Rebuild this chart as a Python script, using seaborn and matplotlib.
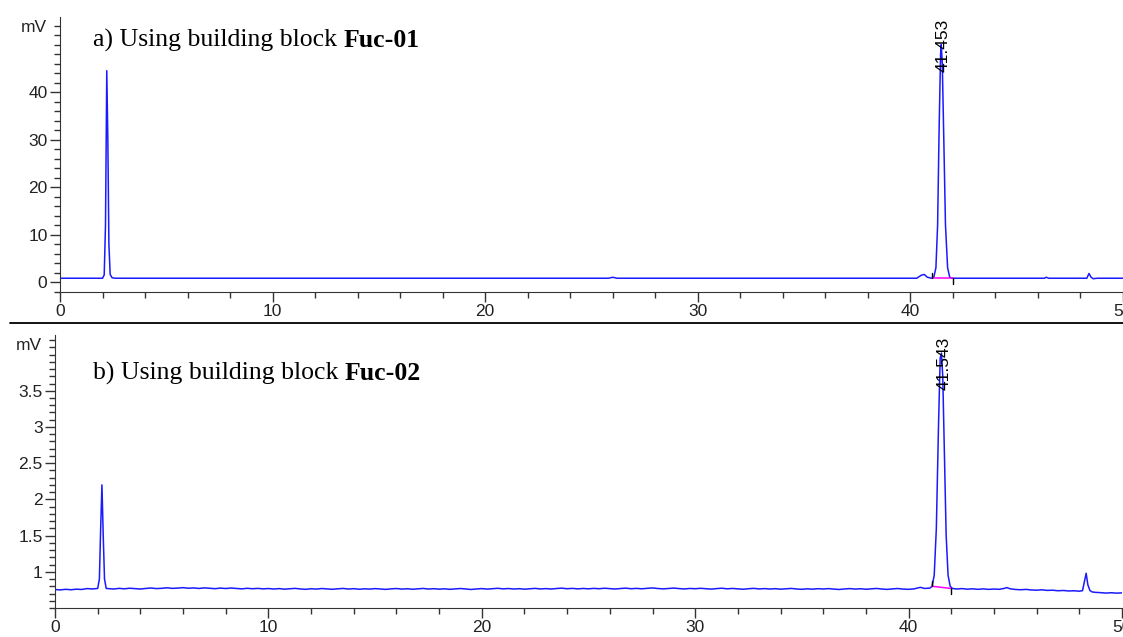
import matplotlib
matplotlib.use("Agg")
import matplotlib.pyplot as plt
from matplotlib.lines import Line2D
from matplotlib.text import Annotation
from matplotlib.ticker import MultipleLocator, FixedLocator
import seaborn as sns

# chromatogram a) Fuc-01 : time (min), signal (mV)
time_a = [0.0, 1.0, 2.0, 2.08, 2.14, 2.2, 2.25, 2.3, 2.36, 2.45, 2.6, 10.0, 20.0, 25.8, 26.0, 26.2,
          35.0, 40.3, 40.5, 40.65, 40.8, 41.0, 41.1, 41.2, 41.28, 41.35, 41.42, 41.45, 41.5, 41.58,
          41.65, 41.75, 41.85, 41.95, 44.0, 46.3, 46.4, 46.5, 48.3, 48.4, 48.5, 48.6, 48.8, 50.0]
signal_a = [0.8, 0.8, 0.8, 1.5, 12.0, 44.5, 30.0, 8.0, 1.6, 0.9, 0.8, 0.8, 0.8, 0.8, 1.0, 0.8,
            0.8, 0.8, 1.4, 1.6, 1.0, 0.8, 1.0, 3.0, 12.0, 32.0, 48.0, 50.0, 46.0, 28.0,
            12.0, 3.0, 1.0, 0.8, 0.8, 0.8, 1.0, 0.8, 0.8, 1.8, 1.0, 0.7, 0.8, 0.8]

# chromatogram b) Fuc-02
time_b = [0.0, 0.25, 0.5, 0.75, 1.0, 1.25, 1.5, 1.75, 2.0, 2.08, 2.14, 2.2, 2.26, 2.32, 2.4,
          2.5, 2.75, 3.0, 3.25, 3.5, 3.75, 4.0, 4.25, 4.5, 4.75, 5.0, 5.25, 5.5, 5.75, 6.0, 6.25,
          6.5, 6.75, 7.0, 7.25, 7.5, 7.75, 8.0, 8.25, 8.5, 8.75, 9.0, 9.25, 9.5, 9.75, 10.0,
          10.25, 10.5, 10.75, 11.0, 11.25, 11.5, 11.75, 12.0, 12.25, 12.5, 12.75, 13.0, 13.25, 13.5,
          13.75, 14.0, 14.25, 14.5, 14.75, 15.0, 15.25, 15.5, 15.75, 16.0, 16.25, 16.5, 16.75, 17.0,
          17.25, 17.5, 17.75, 18.0, 18.25, 18.5, 18.75, 19.0, 19.25, 19.5, 19.75, 20.0, 20.25, 20.5,
          20.75, 21.0, 21.25, 21.5, 21.75, 22.0, 22.25, 22.5, 22.75, 23.0, 23.25, 23.5, 23.75, 24.0,
          24.25, 24.5, 24.75, 25.0, 25.25, 25.5, 25.75, 26.0, 26.25, 26.5, 26.75, 27.0, 27.25, 27.5,
          27.75, 28.0, 28.25, 28.5, 28.75, 29.0, 29.25, 29.5, 29.75, 30.0, 30.25, 30.5, 30.75, 31.0,
          31.25, 31.5, 31.75, 32.0, 32.25, 32.5, 32.75, 33.0, 33.25, 33.5, 33.75, 34.0, 34.25, 34.5,
          34.75, 35.0, 35.25, 35.5, 35.75, 36.0, 36.25, 36.5, 36.75, 37.0, 37.25, 37.5, 37.75, 38.0,
          38.25, 38.5, 38.75, 39.0, 39.25, 39.5, 39.75, 40.0,
          40.25, 40.55, 40.75, 41.0, 41.1, 41.2, 41.3, 41.4, 41.48, 41.54, 41.6, 41.68, 41.76, 41.85,
          41.95, 42.05, 42.25, 42.5, 42.75, 43.0, 43.25, 43.5, 43.75, 44.0, 44.25, 44.5, 44.6, 44.75,
          45.0, 45.25, 45.5, 45.75, 46.0, 46.25, 46.5, 46.75, 47.0, 47.25, 47.5, 47.75, 48.0, 48.15,
          48.25, 48.32, 48.4, 48.5, 48.6, 48.75, 49.0, 49.25, 49.5, 49.75, 50.0]
signal_b = [0.755, 0.750, 0.758, 0.752, 0.760, 0.756, 0.768, 0.763, 0.770, 0.9, 1.6, 2.2, 1.5, 0.9, 0.77,
            0.768, 0.762, 0.771, 0.765, 0.773, 0.767, 0.762, 0.770, 0.776, 0.768, 0.772, 0.779, 0.771, 0.775, 0.781, 0.773,
            0.777, 0.770, 0.778, 0.772, 0.767, 0.775, 0.769, 0.776, 0.770, 0.764, 0.772, 0.766, 0.771, 0.764, 0.769,
            0.762, 0.768, 0.760, 0.766, 0.771, 0.763, 0.758, 0.766, 0.761, 0.769, 0.764, 0.758, 0.765, 0.770,
            0.762, 0.767, 0.759, 0.765, 0.761, 0.768, 0.763, 0.757, 0.764, 0.769, 0.761, 0.766, 0.759, 0.764,
            0.770, 0.762, 0.767, 0.760, 0.765, 0.758, 0.763, 0.769, 0.762, 0.756, 0.763, 0.768, 0.761, 0.766,
            0.772, 0.764, 0.769, 0.762, 0.767, 0.760, 0.766, 0.771, 0.763, 0.768, 0.762, 0.769, 0.774, 0.766,
            0.771, 0.764, 0.770, 0.765, 0.771, 0.766, 0.773, 0.767, 0.762, 0.769, 0.774, 0.766, 0.771, 0.765,
            0.772, 0.777, 0.769, 0.764, 0.770, 0.775, 0.768, 0.763, 0.770, 0.766, 0.772, 0.767, 0.761, 0.768,
            0.773, 0.765, 0.770, 0.764, 0.759, 0.766, 0.771, 0.763, 0.768, 0.762, 0.767, 0.760, 0.765, 0.770,
            0.763, 0.758, 0.765, 0.760, 0.767, 0.762, 0.768, 0.761, 0.756, 0.763, 0.768, 0.761, 0.766, 0.759,
            0.764, 0.770, 0.762, 0.757, 0.764, 0.769, 0.761, 0.758,
            0.764, 0.785, 0.770, 0.775, 0.80, 0.95, 1.6, 3.0, 3.95, 4.02, 3.7, 2.6, 1.5, 0.95,
            0.80, 0.77, 0.762, 0.768, 0.760, 0.765, 0.758, 0.764, 0.757, 0.762, 0.758, 0.772, 0.782, 0.766,
            0.756, 0.752, 0.757, 0.749, 0.746, 0.751, 0.743, 0.746, 0.738, 0.742, 0.735, 0.738, 0.732, 0.74,
            0.88, 0.98, 0.82, 0.74, 0.722, 0.716, 0.712, 0.706, 0.711, 0.705, 0.709]

panel_titles = ["a) Using building block ", "b) Using building block "]
panel_bold = ["Fuc-01", "Fuc-02"]
peak_labels = ["41.453", "41.543"]
peak_times = [41.453, 41.543]
# integration baseline (start, end) of the main peak
base_a = [(41.0, 0.8), (42.0, 0.8)]
base_b = [(41.1, 0.80), (42.0, 0.77)]

sns.set_style("ticks")
plt.rcParams["font.family"] = ["Liberation Sans", "DejaVu Sans"]

fig = plt.figure(figsize=(11.23, 6.37), dpi=100)
ax1 = fig.add_axes([60 / 1123, 1 - 292 / 637, 1063 / 1123, 275 / 637])
ax2 = fig.add_axes([55 / 1123, 1 - 608 / 637, 1067 / 1123, 273 / 637])

blue = "#1a1aff"
sns.lineplot(x=time_a, y=signal_a, ax=ax1, color=blue, linewidth=1.1, sort=False)
sns.lineplot(x=time_b, y=signal_b, ax=ax2, color=blue, linewidth=1.1, sort=False)

ax1.set_xlim(0, 50)
ax1.set_ylim(-2.1, 55.8)
ax2.set_xlim(0, 50)
ax2.set_ylim(0.5, 4.27)

ax1.yaxis.set_major_locator(FixedLocator([0, 10, 20, 30, 40]))
ax1.yaxis.set_minor_locator(MultipleLocator(2))
ax2.yaxis.set_major_locator(FixedLocator([1, 1.5, 2, 2.5, 3, 3.5]))
ax2.yaxis.set_minor_locator(MultipleLocator(0.1))
ax2.set_yticklabels(["1", "1.5", "2", "2.5", "3", "3.5"])

for ax in (ax1, ax2):
    ax.xaxis.set_major_locator(MultipleLocator(10))
    ax.xaxis.set_minor_locator(MultipleLocator(2))
    ax.spines["top"].set_visible(False)
    ax.spines["right"].set_visible(False)
    ax.spines["left"].set_color("#333333")
    ax.spines["bottom"].set_color("#333333")
    ax.tick_params(which="major", length=7, width=1, color="#333333", labelsize=12.5, labelcolor="#222222", pad=2)
    ax.tick_params(which="minor", length=4, width=1, color="#333333")
    ax.set_xlabel("")
    ax.set_ylabel("")
    ax.text(-0.012, 0.96, "mV", transform=ax.transAxes, ha="right", va="center", fontsize=12.5, color="#222222")

# integration baselines and markers
for ax, base, tick in ((ax1, base_a, 1.2), (ax2, base_b, 0.07)):
    ax.plot([base[0][0], base[1][0]], [base[0][1], base[1][1]], color="#ff00ff", linewidth=1.1)
    ax.plot([base[0][0], base[0][0]], [base[0][1], base[0][1] + tick], color="black", linewidth=1)
    ax.plot([base[1][0], base[1][0]], [base[1][1], base[1][1] - tick], color="black", linewidth=1)

# peak retention time labels
for ax, lab, t in ((ax1, peak_labels[0], peak_times[0]), (ax2, peak_labels[1], peak_times[1])):
    ax.text(t + 0.1, 0.995, lab, transform=ax.get_xaxis_transform(), rotation=90,
            ha="center", va="top", fontsize=12.5, color="black")

# panel titles (serif, bold compound name)
for ypix, title, bold in ((47, panel_titles[0], panel_bold[0]), (380, panel_titles[1], panel_bold[1])):
    t1 = fig.text(93 / 1123, 1 - ypix / 637, title, family="Liberation Serif", fontsize=18.5,
                  ha="left", va="baseline", color="black")
    fig.add_artist(Annotation(bold, xy=(1, 0), xycoords=t1, ha="left", va="bottom",
                              family="Liberation Serif", fontsize=18.5, fontweight="bold",
                              color="black", annotation_clip=False))

# separator between the two panels
fig.add_artist(Line2D([10 / 1123, 1.0], [1 - 323 / 637, 1 - 323 / 637], color="black", linewidth=1.3))

fig.savefig("out.png", dpi=100)
